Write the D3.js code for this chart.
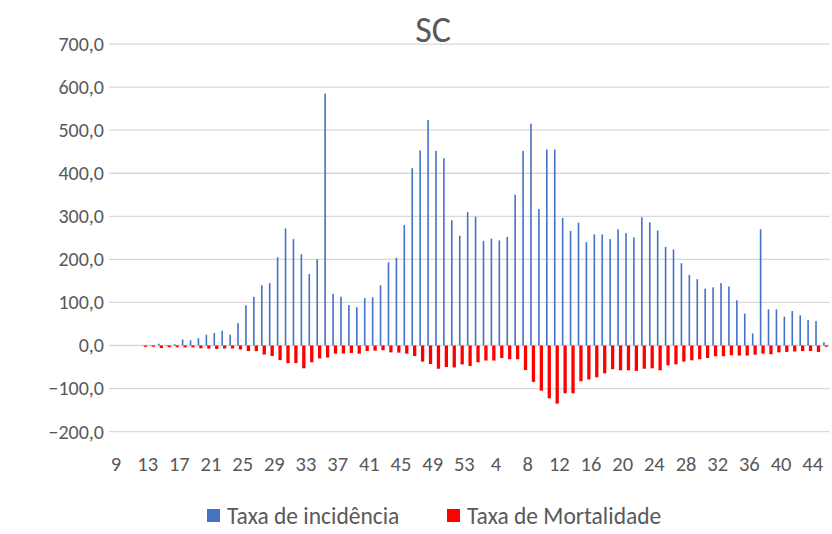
<!DOCTYPE html>
<html>
<head>
<meta charset="utf-8">
<script src="https://cdn.jsdelivr.net/npm/d3@7"></script>
<style>
  html, body { margin: 0; padding: 0; background: #fff; }
  svg { display: block; font-family: Calibri, Carlito, Lato, sans-serif; }
</style>
</head>
<body>
<svg id="chart" width="832" height="534"></svg>
<script>
// Epidemiological weeks: 9–53 of the first year, then 1–46 of the next
const weeks = [
  9,10,11,12,13,14,15,16,17,18,19,20,21,22,23,24,25,26,27,28,29,30,31,32,33,34,35,36,37,38,
  39,40,41,42,43,44,45,46,47,48,49,50,51,52,53,
  1,2,3,4,5,6,7,8,9,10,11,12,13,14,15,16,17,18,19,20,21,22,23,24,25,26,27,28,29,30,
  31,32,33,34,35,36,37,38,39,40,41,42,43,44,45,46
];

// Weekly incidence rate
const incidencia = [
  0,0,0,0,0.5,1,4,1,3,14,12,17,25,29,34,25,52,93,113,140,145,205,272,247,212,166,200,585,120,113,
  94,89,110,112,140,193,204,280,412,453,524,452,435,291,255,
  310,299,243,248,244,252,350,452,515,317,455,455,296,266,285,240,258,258,247,270,261,251,298,286,267,229,223,191,164,154,
  132,135,145,137,105,74,28,270,84,84,67,80,70,59,57,7.5
];

// Weekly mortality rate, plotted below zero
const mortalidade = [
  0,0,0,0,-3,-3,-6,-4,-4,-4.5,-4.5,-6.5,-7,-8,-7,-7,-9.3,-13,-13,-21,-24.5,-34,-41,-40.6,-53,-39,-30,-28,-19,-18.5,
  -17.5,-19,-12.8,-12,-11,-16,-16.6,-19,-24.5,-37.5,-43,-54,-50,-51,-44,
  -47.6,-39,-35,-35,-29,-32,-32,-57,-84.5,-105,-122.6,-135,-111,-111,-83,-79,-74,-64.6,-55,-57.6,-57.6,-59,-54,-53,-57.6,-46,-43.7,-37.5,-34.4,-32,
  -29,-25,-25,-22.7,-23.5,-23.5,-21.4,-19,-20.4,-16,-15,-14,-13,-13,-15,-3
];

const yTicks = [-200,-100,0,100,200,300,400,500,600,700];
const title = "SC";
const seriesNames = ["Taxa de incidência", "Taxa de Mortalidade"];
const seriesColors = ["#4472C4", "#FF0000"];

const svg = d3.select("#chart");
const textColor = "#595959";
const labelFont = "Calibri, Carlito, Lato, sans-serif";

const plot = { left: 109, right: 829.5, top: 44.1, bottom: 431.6 };

const x = d3.scaleBand()
  .domain(d3.range(weeks.length))
  .range([plot.left, plot.right]);

const y = d3.scaleLinear()
  .domain([-200, 700])
  .range([plot.bottom, plot.top]);

const fmt = v => d3.format(".1f")(v).replace(".", ",");

// Horizontal gridlines
svg.append("g")
  .selectAll("line")
  .data(yTicks)
  .join("line")
  .attr("x1", plot.left)
  .attr("x2", plot.right)
  .attr("y1", d => y(d))
  .attr("y2", d => y(d))
  .attr("stroke", "#d9d9d9")
  .attr("stroke-width", 1.3);

// Y axis labels
const yAxis = svg.append("g")
  .attr("transform", `translate(${plot.left - 5},0)`)
  .call(d3.axisLeft(y).tickValues(yTicks).tickFormat(fmt).tickSize(0).tickPadding(0));
yAxis.select(".domain").remove();
yAxis.selectAll("text")
  .attr("fill", textColor)
  .style("font-size", "20px")
  .style("font-family", labelFont);

// X axis labels, every fourth week
const xAxis = svg.append("g")
  .attr("transform", `translate(3,${plot.bottom + 25})`)
  .call(d3.axisBottom(x)
    .tickValues(d3.range(0, weeks.length, 4))
    .tickFormat(i => weeks[i])
    .tickSize(0)
    .tickPadding(0));
xAxis.select(".domain").remove();
xAxis.selectAll("text")
  .attr("fill", textColor)
  .attr("dy", "0.71em")
  .style("font-size", "20.5px")
  .style("font-family", labelFont);

// Bars: thin incidence bar with the mortality bar just to its right
const bw = x.bandwidth();
const incW = 1.6, morW = 3.3;
const clusterOffset = bw / 2 - 2.4;

svg.append("g")
  .selectAll("rect")
  .data(incidencia)
  .join("rect")
  .attr("x", (d, i) => x(i) + clusterOffset)
  .attr("width", incW)
  .attr("y", d => y(Math.max(0, d)))
  .attr("height", d => Math.abs(y(d) - y(0)))
  .attr("fill", seriesColors[0]);

svg.append("g")
  .selectAll("rect")
  .data(mortalidade)
  .join("rect")
  .attr("x", (d, i) => x(i) + clusterOffset + incW)
  .attr("width", morW)
  .attr("y", d => y(Math.max(0, d)))
  .attr("height", d => Math.abs(y(d) - y(0)))
  .attr("fill", seriesColors[1]);

// Title
svg.append("text")
  .attr("x", 433)
  .attr("y", 42)
  .attr("text-anchor", "middle")
  .attr("fill", textColor)
  .style("font-size", "36px")
  .text(title);

// Legend
const legendItems = [
  { name: seriesNames[0], color: seriesColors[0], x: 207 },
  { name: seriesNames[1], color: seriesColors[1], x: 447 }
];
const lg = svg.append("g");
legendItems.forEach(item => {
  lg.append("rect")
    .attr("x", item.x)
    .attr("y", 509)
    .attr("width", 13)
    .attr("height", 13)
    .attr("fill", item.color);
  lg.append("text")
    .attr("x", item.x + 20)
    .attr("y", 523.5)
    .attr("fill", textColor)
    .style("font-size", "23.5px")
    .text(item.name);
});
</script>
</body>
</html>
